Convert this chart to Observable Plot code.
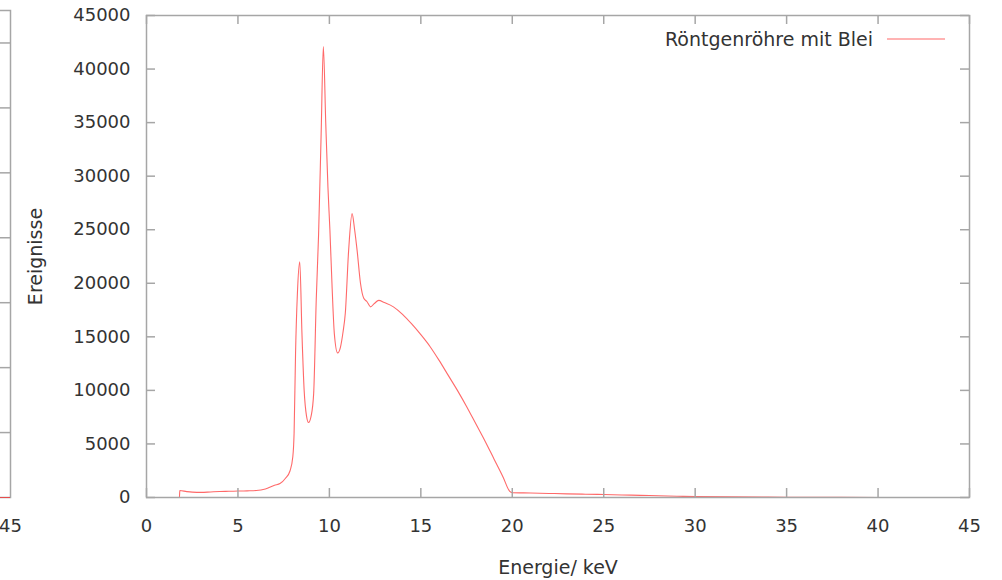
<!DOCTYPE html>
<html>
<head>
<meta charset="utf-8">
<script src="https://cdn.jsdelivr.net/npm/d3@7"></script>
<script src="https://cdn.jsdelivr.net/npm/@observablehq/plot@0.6"></script>
<style>
  html, body { margin: 0; padding: 0; background: #fff; overflow: hidden; }
  #wrap { position: relative; width: 1002px; height: 580px; overflow: hidden; }
  #wrap svg { position: absolute; top: 0; overflow: visible; }
</style>
</head>
<body>
<div id="wrap"></div>
<script>
// ---- data ----
const energy = [0, 1.8, 1.82, 2.2, 2.5, 3, 3.5, 4, 4.5, 5, 5.5, 6, 6.5, 7, 7.3, 7.6, 7.85, 8.0, 8.07, 8.15, 8.25, 8.38, 8.5, 8.62, 8.75, 8.86, 9.0, 9.14, 9.28, 9.41, 9.55, 9.67, 9.8, 9.92, 10.03, 10.14, 10.27, 10.45, 10.6, 10.75, 10.87, 11.05, 11.24, 11.38, 11.52, 11.7, 11.88, 12.05, 12.25, 12.45, 12.7, 13.0, 13.5, 14, 14.5, 15, 15.5, 16, 16.5, 17, 17.5, 18, 18.5, 19, 19.5, 19.85, 20, 21, 22, 23, 24, 25, 26, 27, 28, 29, 30, 32, 34, 36, 38, 40, 42, 45];
const counts = [0, 0, 650, 550, 500, 480, 520, 560, 580, 600, 620, 650, 800, 1150, 1300, 1800, 2500, 3800, 6000, 13500, 19000, 22000, 15300, 10000, 7600, 7000, 7600, 9700, 18400, 24600, 34000, 42100, 35000, 29000, 24900, 20000, 15300, 13500, 14000, 15500, 17200, 23000, 26500, 25000, 23000, 20000, 18600, 18300, 17800, 18100, 18400, 18200, 17800, 17100, 16200, 15200, 14100, 12800, 11400, 10000, 8500, 6900, 5300, 3600, 1900, 600, 450, 420, 380, 340, 310, 280, 240, 200, 160, 120, 90, 55, 35, 20, 12, 6, 3, 0];
const xTicks = [0, 5, 10, 15, 20, 25, 30, 35, 40, 45];
const yTicks = [0, 5000, 10000, 15000, 20000, 25000, 30000, 35000, 40000, 45000];
const seriesName = "Röntgenröhre mit Blei";
const xLabel = "Energie/ keV";
const yLabel = "Ereignisse";
// fragment of the neighbouring chart at the left edge
const fragYTicks = [1, 2, 3, 4, 5, 6, 7];
const fragXTicks = [45];

const data = energy.map((e, i) => ({e, c: counts[i]}));

const W = 1002, H = 580;
const mL = 146, mR = 33, mT = 15, mB = 83;
const plotW = W - mL - mR, plotH = H - mT - mB;
const tickLen = 9;
const gray = "#a6a6a6";
const textColor = "#333";
const red = "#ff2a2a";
const lineOpacity = 0.7;
const font = "DejaVu Sans";

const chart = Plot.plot({
  width: W, height: H,
  marginLeft: mL, marginRight: mR, marginTop: mT, marginBottom: mB,
  style: {fontFamily: font, fontSize: "18px", color: textColor, background: "transparent"},
  x: {domain: [0, 45]},
  y: {domain: [0, 45000]},
  marks: [
    Plot.axisX(xTicks, {tickSize: 0, tickPadding: 22, label: null, fontSize: 18, tickFormat: d => String(d)}),
    Plot.axisY(yTicks, {tickSize: 0, tickPadding: 16, label: null, fontSize: 18, tickFormat: d => String(d)}),
    Plot.line(data, {x: "e", y: "c", stroke: red, strokeWidth: 1.1, strokeOpacity: lineOpacity, curve: "monotone-x"}),
    Plot.frame({stroke: gray, strokeWidth: 1.5}),
    Plot.tickX(xTicks, {x: d => d, insetTop: plotH - tickLen, stroke: gray, strokeWidth: 1.5}),
    Plot.tickX(xTicks, {x: d => d, insetBottom: plotH - tickLen, stroke: gray, strokeWidth: 1.5}),
    Plot.tickY(yTicks, {y: d => d, insetRight: plotW - tickLen, stroke: gray, strokeWidth: 1.5}),
    Plot.tickY(yTicks, {y: d => d, insetLeft: plotW - tickLen, stroke: gray, strokeWidth: 1.5}),
    Plot.text([xLabel], {text: d => d, frameAnchor: "bottom", dy: 70, lineAnchor: "middle", textAnchor: "middle", fontSize: 19, fill: textColor}),
    Plot.text([yLabel], {text: d => d, frameAnchor: "left", dx: -111, rotate: -90, lineAnchor: "middle", textAnchor: "middle", fontSize: 19, fill: textColor})
  ]
});

// legend (key) in the top right corner
const svg = d3.select(chart);
const lx2 = W - mR - 24, lx1 = lx2 - 58, ly = mT + 24;
svg.append("text")
  .attr("x", lx1 - 14).attr("y", ly)
  .attr("text-anchor", "end").attr("dominant-baseline", "central")
  .attr("font-family", font).attr("font-size", 19).attr("fill", textColor)
  .text(seriesName);
svg.append("line")
  .attr("x1", lx1).attr("x2", lx2).attr("y1", ly).attr("y2", ly)
  .attr("stroke", red).attr("stroke-width", 1.1).attr("stroke-opacity", lineOpacity);

// neighbouring chart fragment
const fW = 120, fmL = 20, fmR = 20, fmT = 10, fmB = 83;
const fPlotW = fW - fmL - fmR;
const frag = Plot.plot({
  width: fW, height: H,
  marginLeft: fmL, marginRight: fmR, marginTop: fmT, marginBottom: fmB,
  style: {fontFamily: font, fontSize: "18px", color: textColor, background: "transparent"},
  x: {domain: [0, 45], axis: null},
  y: {domain: [0, 7.5], axis: null},
  marks: [
    Plot.axisX(fragXTicks, {tickSize: 0, tickPadding: 22, label: null, fontSize: 18}),
    Plot.frame({stroke: gray, strokeWidth: 1.5}),
    Plot.ruleY([0], {stroke: red, strokeWidth: 1.1, strokeOpacity: lineOpacity}),
    Plot.tickY(fragYTicks, {y: d => d, insetLeft: fPlotW - tickLen - 2, stroke: gray, strokeWidth: 1.5})
  ]
});

const wrap = document.getElementById("wrap");
frag.style.left = (10 - (fW - fmR)) + "px";
chart.style.left = "0px";
wrap.appendChild(frag);
wrap.appendChild(chart);
</script>
</body>
</html>
